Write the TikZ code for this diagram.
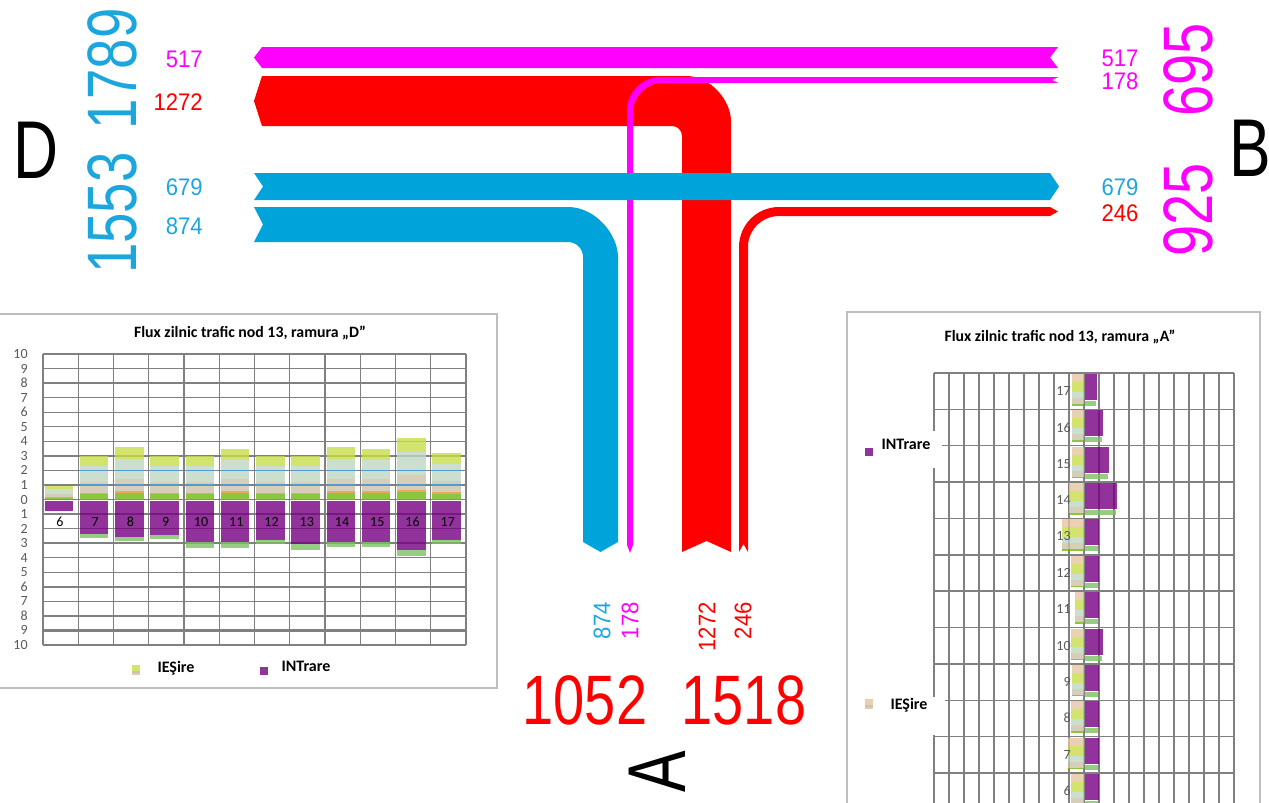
\documentclass[tikz,border=0pt]{standalone}
\usepackage{fontspec}
\setmainfont{Liberation Sans}
\newfontfamily\chartfont{Carlito}
\usepackage{tikz}
\usetikzlibrary{positioning}

\definecolor{flowcyan}{RGB}{0,163,218}
\definecolor{labelcyan}{RGB}{28,166,222}
\definecolor{flowmagenta}{RGB}{255,0,255}
\definecolor{flowred}{RGB}{255,0,0}
\definecolor{barpurple}{RGB}{117,0,130}
\definecolor{barlime}{RGB}{199,221,74}
\definecolor{barpale}{RGB}{191,214,194}
\definecolor{bartan}{RGB}{204,194,166}
\definecolor{barpeach}{RGB}{231,196,161}
\definecolor{bargreen}{RGB}{111,184,15}
\definecolor{barorange}{RGB}{231,146,51}
\definecolor{bartail}{RGB}{124,192,99}
\definecolor{barblue}{RGB}{78,156,212}
\definecolor{gridgray}{RGB}{128,128,128}
\definecolor{framegray}{RGB}{190,190,190}

\tikzset{
    branch/.style={font=\fontsize{41}{41}\selectfont, inner sep=0pt},
    branchsum/.style={font=\fontsize{35}{35}\selectfont, inner sep=0pt},
    flowno/.style={font=\fontsize{12}{12}\selectfont, inner sep=0pt},
    charttitle/.style={font=\chartfont\bfseries\fontsize{7.9}{8}\selectfont, inner sep=0pt},
    ticklabel/.style={font=\chartfont\fontsize{7}{7}\selectfont, inner sep=0pt, text=black!65},
    hourlabel/.style={font=\chartfont\fontsize{7}{7}\selectfont, inner sep=0pt},
    legendtext/.style={font=\chartfont\bfseries\fontsize{8}{8}\selectfont, inner sep=0pt},
    barfill/.style={fill opacity=0.8},
    swatch/.style={barfill, minimum width=4pt, minimum height=4pt, inner sep=0pt},
    chartgrid/.style={draw=gridgray, line width=0.7pt},
}

\begin{document}
\begin{tikzpicture}[x=0.5pt, y=-0.5pt]
    \useasboundingbox (0,0) rectangle (1269,803);

    % flows
    \fill[flowred] (262,76) -- (686,76) .. controls (711,76) and (731,101) .. (731,121)
        -- (731,552) -- (706.5,541) -- (682,552) -- (682,136)
        .. controls (682,130.5) and (677.5,126) .. (672,126) -- (262,126) -- (254,101) -- cycle;
    \fill[flowmagenta] (1058,77) -- (1052,80) -- (1058,83) -- (661,83)
        .. controls (645.5,83) and (633,98.5) .. (633,111) -- (633,545) -- (630,553) -- (627,545)
        -- (627,111) .. controls (627,92.2) and (642.2,77) .. (661,77) -- cycle;
    \fill[flowmagenta] (262,47) -- (1058,47) -- (1050,57.5) -- (1058,68) -- (262,68) -- (254,57.5) -- cycle;
    \fill[flowcyan] (254,207) -- (568,207) .. controls (595.6,207) and (618,234.6) .. (618,257)
        -- (618,542) -- (600.5,552) -- (583,542) -- (583,257)
        .. controls (583,248.7) and (576.3,242) .. (568,242) -- (254,242) -- (263,224.5) -- cycle;
    \fill[flowred] (1050,207) -- (1058,211.5) -- (1050,216) -- (779,216)
        .. controls (761.9,216) and (748,229.9) .. (748,247) -- (748,552) -- (743.5,544) -- (739,552)
        -- (739,247) .. controls (739,224.9) and (756.9,207) .. (779,207) -- cycle;
    \fill[flowcyan] (254,173) -- (1050,173) -- (1059,186.5) -- (1050,200) -- (254,200) -- (263,186.5) -- cycle;

    \node (dbranch) at(36,150) [branch, xscale=0.76] {D};
    \node (bbranch) at(1250,148) [branch, xscale=0.76] {B};
    \node (abranch) at(657,772) [branch, rotate=90, xscale=0.76] {A};

    \node (dsumtop) at(112,69) [branchsum, text=labelcyan, rotate=90, xscale=0.78] {1789};
    \node (dsumbot) at(112,213) [branchsum, text=labelcyan, rotate=90, xscale=0.78] {1553};
    \node (bsumtop) at(1188,70) [branchsum, text=flowmagenta, rotate=90, xscale=0.8] {695};
    \node (bsumbot) at(1188,210) [branchsum, text=flowmagenta, rotate=90, xscale=0.8] {925};
    \node (asumleft) at(585,700) [branchsum, text=flowred, xscale=0.8] {1052};
    \node (asumright) at(744,700) [branchsum, text=flowred, xscale=0.8] {1518};

    \node (dn517) at(203,59) [flowno, anchor=east, text=flowmagenta, xscale=0.92] {517};
    \node (dn1272) at(203,102) [flowno, anchor=east, text=flowred, xscale=0.92] {1272};
    \node (dn679) at(203,187) [flowno, anchor=east, text=labelcyan, xscale=0.92] {679};
    \node (dn874) at(203,226) [flowno, anchor=east, text=labelcyan, xscale=0.92] {874};
    \node (bn517) at(1120,58) [flowno, text=flowmagenta, xscale=0.92] {517};
    \node (bn178) at(1120,81) [flowno, text=flowmagenta, xscale=0.92] {178};
    \node (bn679) at(1120,187) [flowno, text=labelcyan, xscale=0.92] {679};
    \node (bn246) at(1120,213) [flowno, text=flowred, xscale=0.92] {246};
    \node (an874) at(602,602) [flowno, anchor=east, rotate=90, xscale=0.92, text=labelcyan] {874};
    \node (an178) at(630,602) [flowno, anchor=east, rotate=90, xscale=0.92, text=flowmagenta] {178};
    \node (an1272) at(707,602) [flowno, anchor=east, rotate=90, xscale=0.92, text=flowred] {1272};
    \node (an246) at(743,602) [flowno, anchor=east, rotate=90, xscale=0.92, text=flowred] {246};

    % chart D
    \draw[framegray, line width=1pt] (0,314) -- (497,314) -- (497,688) -- (0,688);
    \node (dtitle) at(250,333) [charttitle] {Flux zilnic trafic nod 13, ramura „D”};
    \foreach \k in {0,...,12}
        \draw[chartgrid] ({43+35.25*\k},354) -- ({43+35.25*\k},645);
    \foreach \k in {0,...,20}
        \draw[chartgrid] (43,{354+14.55*\k}) -- (466,{354+14.55*\k});
    \draw[chartgrid, line width=1.1pt] (43,455.85) -- (466,455.85);
    \draw[chartgrid, line width=1.1pt] (43,630.45) -- (466,630.45);
    \foreach \v [count=\k from 0] in {10,9,8,7,6,5,4,3,2,1,0,1,2,3,4,5,6,7,8,9,10}
        \node (dtick\k) at(28,{354+14.55*\k}) [ticklabel, anchor=east] {\v};
    \foreach \h/\vout/\vin/\vtail [count=\i from 0] in {6/0.9/0.8/0, 7/3/2.35/0.3, 8/3.6/2.55/0.28,
        9/3/2.45/0.25, 10/3/2.9/0.4, 11/3.5/2.95/0.4, 12/3/2.75/0.3, 13/3/3.05/0.4,
        14/3.6/2.95/0.3, 15/3.5/2.95/0.3, 16/4.2/3.45/0.4, 17/3.2/2.8/0.25} {
        \pgfmathsetmacro{\xl}{44.5+35.25*\i}
        \pgfmathsetmacro{\xr}{\xl+28.5}
        \fill[barfill, bargreen] (\xl,499.5) rectangle (\xr,{499.5-0.12*\vout*14.55});
        \fill[barfill, barorange] (\xl,{499.5-0.12*\vout*14.55}) rectangle (\xr,{499.5-0.16*\vout*14.55});
        \fill[barfill, bartan] (\xl,{499.5-0.16*\vout*14.55}) rectangle (\xr,{499.5-0.4*\vout*14.55});
        \fill[barfill, barpale] (\xl,{499.5-0.4*\vout*14.55}) rectangle (\xr,{499.5-0.77*\vout*14.55});
        \fill[barfill, barlime] (\xl,{499.5-0.77*\vout*14.55}) rectangle (\xr,{499.5-\vout*14.55});
        \fill[barfill, barpurple] (\xl,500.5) rectangle (\xr,{499.5+\vin*14.55});
        \fill[barfill, bartail] (\xl,{499.5+\vin*14.55}) rectangle (\xr,{499.5+(\vin+\vtail)*14.55});
        \node (dhour\h) at({\xl+15.5},521.7) [hourlabel] {\h};
    }
    \foreach \i in {1,...,11} {
        \draw[barblue, line width=0.6pt] ({44.5+35.25*\i},484.95) -- ({73+35.25*\i},484.95);
        \draw[barblue, line width=0.6pt] ({44.5+35.25*\i},470.4) -- ({73+35.25*\i},470.4);
    }
    \node (doutkey) at(136,669) [swatch, fill=barlime] {};
    \node (doutkeylow) at(136,673) [swatch, fill=bartan, minimum height=2pt] {};
    \node (dout) at(176,668) [legendtext] {IEŞire};
    \node (dinkey) at(263.5,671) [swatch, fill=barpurple] {};
    \node (din) at(306,666) [legendtext] {INTrare};

    % chart A
    \draw[framegray, line width=1pt] (847,803) -- (847,312) -- (1260,312) -- (1260,803);
    \node (atitle) at(1060,337) [charttitle] {Flux zilnic trafic nod 13, ramura „A”};
    \foreach \k in {0,...,20}
        \draw[chartgrid] ({934+15*\k},373) -- ({934+15*\k},803);
    \foreach \k in {0,...,11}
        \draw[chartgrid] (934,{373+36.36*\k}) -- (1234,{373+36.36*\k});
    \foreach \h/\xa/\xb [count=\i from 0] in {17/1072/1097, 16/1072/1103, 15/1072/1109,
        14/1069/1117, 13/1062/1099, 12/1071/1099, 11/1075/1099, 10/1071/1103,
        9/1072/1099, 8/1071/1099, 7/1068/1099, 6/1071/1099} {
        \pgfmathsetmacro{\yt}{373+36.36*\i}
        \fill[barfill, barpeach] (\xa,{\yt+1}) rectangle (1083.5,{\yt+9});
        \fill[barfill, barlime] (\xa,{\yt+9}) rectangle (1083.5,{\yt+19});
        \fill[barfill, barpale] (\xa,{\yt+19}) rectangle (1083.5,{\yt+25});
        \fill[barfill, bartan] (\xa,{\yt+25}) rectangle (1083.5,{\yt+31});
        \fill[barfill, bargreen] (\xa,{\yt+31}) rectangle (1083.5,{\yt+32.5});
        \fill[barfill, barpurple] (1085,{\yt+1}) rectangle (\xb,{\yt+27});
        \fill[barfill, bartail] (1085,{\yt+28}) rectangle ({\xb-1},{\yt+33});
        \node (ahour\h) at(1071,{\yt+18}) [hourlabel, anchor=east, text=black!65] {\h};
    }
    \fill[white] (850,431) rectangle (942,468);
    \node (ainkey) at(868.5,452) [swatch, fill=barpurple] {};
    \node (ain) at(906,444) [legendtext] {INTrare};
    \fill[white] (850,697) rectangle (945,735);
    \node (aoutkey) at(868.5,703) [swatch, fill=barpeach] {};
    \node (aoutkeylow) at(868.5,707) [swatch, fill=bartan, minimum height=2pt] {};
    \node (aout) at(909,705) [legendtext] {IEŞire};
\end{tikzpicture}
\end{document}
